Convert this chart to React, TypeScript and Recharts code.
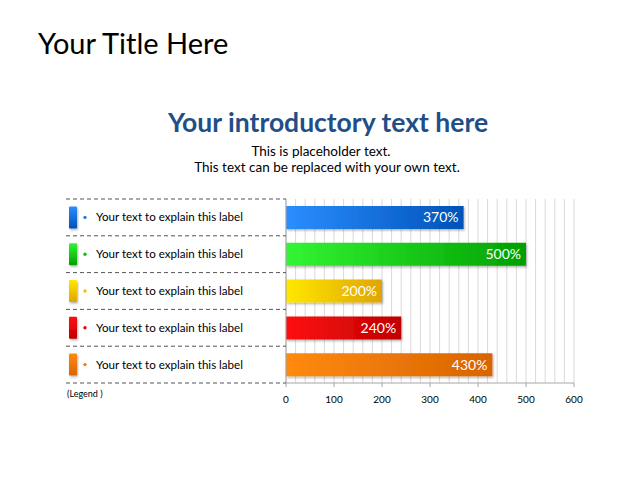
import { BarChart, Bar, XAxis, YAxis, CartesianGrid, LabelList, Cell } from "recharts";

const categories = [
  "Your text to explain this label",
  "Your text to explain this label",
  "Your text to explain this label",
  "Your text to explain this label",
  "Your text to explain this label",
];
const values = [370, 500, 200, 240, 430];
const xTicks = [0, 100, 200, 300, 400, 500, 600];
const gridValues = [
  0, 20, 40, 60, 80, 100, 120, 140, 160, 180, 200, 220, 240, 260, 280, 300,
  320, 340, 360, 380, 400, 420, 440, 460, 480, 500, 520, 540, 560, 580, 600,
];
const lightColors = ["#2b8eff", "#33f533", "#ffe800", "#ff1010", "#ff8a10"];
const darkColors = ["#0052b8", "#00a000", "#e0a400", "#c00000", "#d86400"];
const dotColors = ["#1f7fe8", "#10c010", "#f5c000", "#ee0000", "#f57a10"];

const data = categories.map((name, i) => ({ name, value: values[i] }));

const FONT = "Lato, 'Open Sans', sans-serif";
const LEGEND_LEFT = 66;
const PLOT_LEFT = 286;
const PLOT_TOP = 199;
const PLOT_BOTTOM = 383;
const BAND = (PLOT_BOTTOM - PLOT_TOP) / categories.length;

function LegendTick(props: any) {
  const { y, index, payload } = props;
  const top = y - BAND / 2;
  return (
    <g>
      <line x1={LEGEND_LEFT} x2={PLOT_LEFT} y1={top} y2={top} stroke="#555" strokeDasharray="4 3" />
      {index === categories.length - 1 && (
        <line x1={LEGEND_LEFT} x2={PLOT_LEFT} y1={top + BAND} y2={top + BAND} stroke="#555" strokeDasharray="4 3" />
      )}
      <rect x={69} y={y - 11} width={8} height={22} rx={1} fill={`url(#sw${index})`} filter="url(#shadow)" />
      <circle cx={85} cy={y} r={1.7} fill={dotColors[index]} />
      <text x={96} y={y} dy="0.35em" fontSize={11.6} fill="#000" fontFamily={FONT}>
        {payload.value}
      </text>
    </g>
  );
}

export default function App() {
  return (
    <div style={{ position: "absolute", left: 0, top: 0, width: 640, height: 480, background: "#fff" }}>
      <svg width={640} height={480} style={{ position: "absolute", left: 0, top: 0 }} fontFamily={FONT}>
        <text x={38} y={54} fontSize={29} fill="#000">Your Title Here</text>
        <text x={328} y={132} fontSize={26.5} fontWeight="bold" fill="#1f4e89" textAnchor="middle">
          Your introductory text here
        </text>
        <text x={321} y={156} fontSize={13.5} fill="#000" textAnchor="middle">This is placeholder text.</text>
        <text x={327} y={172} fontSize={13.5} fill="#000" textAnchor="middle">
          This text can be replaced with your own text.
        </text>
        <text x={67} y={397} fontSize={9} fill="#000">(Legend )</text>
      </svg>
      <div style={{ position: "absolute", left: 0, top: 0 }}>
        <BarChart
          width={640}
          height={480}
          data={data}
          layout="vertical"
          margin={{ top: PLOT_TOP, right: 640 - 574, bottom: 480 - PLOT_BOTTOM - 30, left: LEGEND_LEFT }}
        >
          <defs>
            <filter id="shadow" x="-10%" y="-20%" width="130%" height="160%">
              <feDropShadow dx="1" dy="1.5" stdDeviation="1" floodColor="#000" floodOpacity="0.3" />
            </filter>
            {lightColors.map((c, i) => (
              <linearGradient key={`g${i}`} id={`bar${i}`} x1="0" y1="0" x2="1" y2="0">
                <stop offset="0%" stopColor={c} />
                <stop offset="100%" stopColor={darkColors[i]} />
              </linearGradient>
            ))}
            {lightColors.map((c, i) => (
              <linearGradient key={`s${i}`} id={`sw${i}`} x1="0" y1="0" x2="0" y2="1">
                <stop offset="0%" stopColor={c} />
                <stop offset="100%" stopColor={darkColors[i]} />
              </linearGradient>
            ))}
          </defs>
          <CartesianGrid horizontal={false} verticalValues={gridValues} stroke="#d9d9d9" />
          <XAxis
            type="number"
            domain={[0, 600]}
            ticks={xTicks}
            interval={0}
            tick={{ fontSize: 10, fill: "#000", fontFamily: FONT }}
            tickSize={4}
            tickMargin={9}
            axisLine={{ stroke: "#a6a6a6" }}
            tickLine={{ stroke: "#a6a6a6" }}
          />
          <YAxis
            type="category"
            dataKey="name"
            width={PLOT_LEFT - LEGEND_LEFT}
            interval={0}
            tickLine={false}
            axisLine={{ stroke: "#a6a6a6" }}
            tick={(p: any) => <LegendTick {...p} />}
          />
          <Bar dataKey="value" barSize={23} isAnimationActive={false}>
            {data.map((_, i) => (
              <Cell key={i} fill={`url(#bar${i})`} filter="url(#shadow)" />
            ))}
            <LabelList
              dataKey="value"
              position="insideRight"
              offset={5}
              formatter={(v: any) => `${v}%`}
              fill="#fff"
              fontSize={14}
              fontFamily={FONT}
            />
          </Bar>
        </BarChart>
      </div>
    </div>
  );
}
